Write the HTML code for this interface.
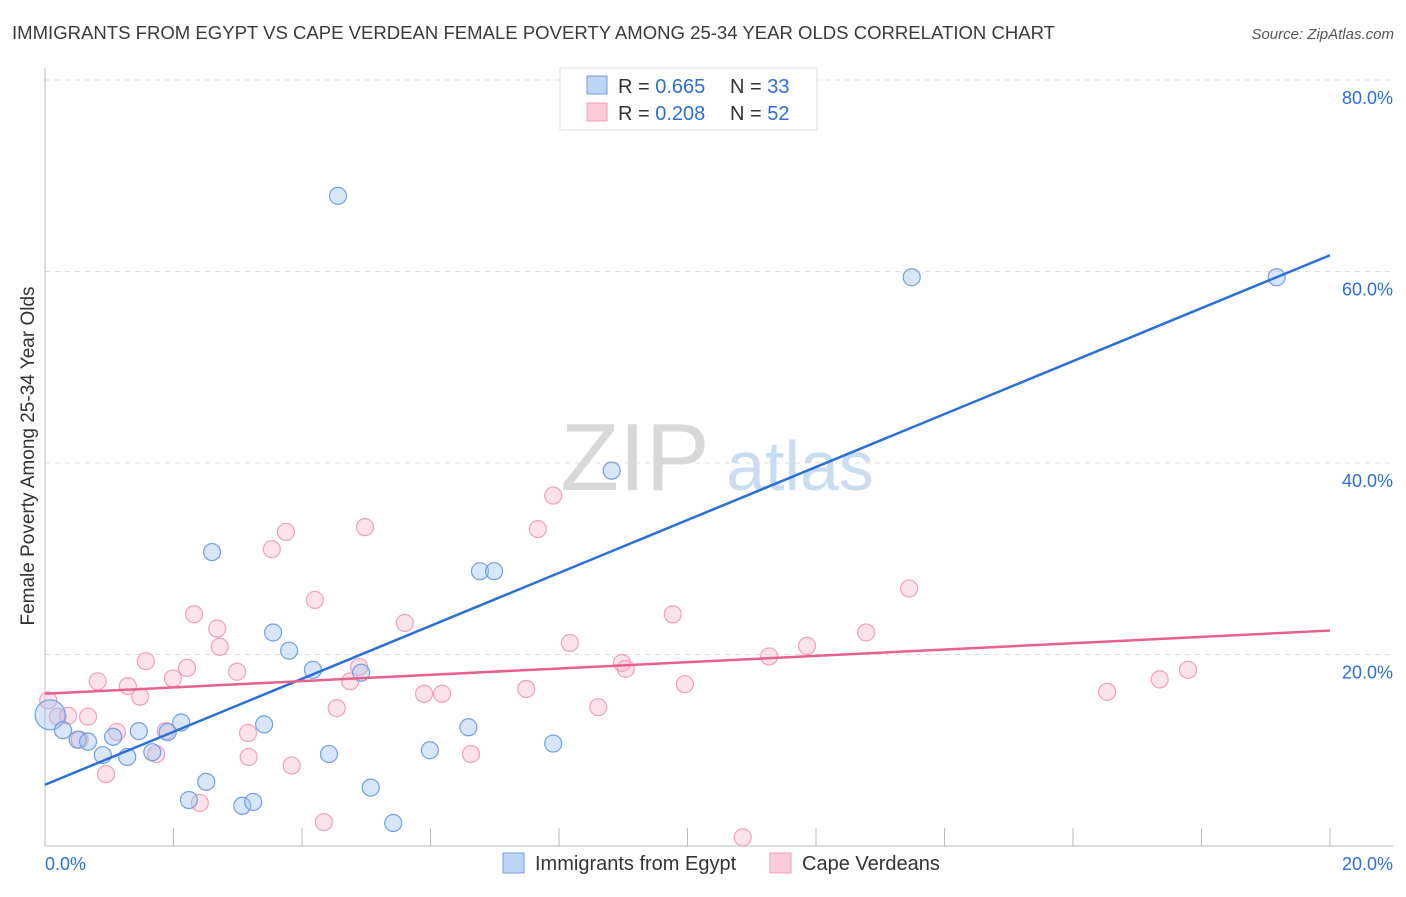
<!DOCTYPE html>
<html><head><meta charset="utf-8"><style>
body{margin:0;background:#fff;font-family:"Liberation Sans",sans-serif;}
svg text{font-family:"Liberation Sans",sans-serif;}
</style></head><body>
<svg id="chart" width="1406" height="892" xmlns="http://www.w3.org/2000/svg">
<text x="12" y="39" font-size="18" fill="#3a3a3a" textLength="1043" lengthAdjust="spacingAndGlyphs">IMMIGRANTS FROM EGYPT VS CAPE VERDEAN FEMALE POVERTY AMONG 25-34 YEAR OLDS CORRELATION CHART</text>
<text x="1394" y="39" font-size="15" fill="#555" text-anchor="end" font-style="italic">Source: ZipAtlas.com</text>
<text x="635" y="490" font-size="96" fill="#d8d8d8" text-anchor="middle" font-family="Liberation Serif">ZIP</text>
<text x="800" y="490" font-size="70" fill="#c8dcf2" text-anchor="middle">atlas</text>
<g id="grid"></g>
<g id="axes"></g>
<g id="pts"></g>
<g id="trends"></g>
<text transform="translate(34,456) rotate(-90)" font-size="19" fill="#333" text-anchor="middle">Female Poverty Among 25-34 Year Olds</text>
<g>
<rect x="560" y="68" width="257" height="62" fill="#fff" stroke="#ddd"/>
<rect x="587" y="76" width="20" height="18" fill="#bcd5f5" stroke="#6fa0e0"/>
<text x="618" y="93" font-size="20" fill="#333">R = <tspan fill="#2b6fd6">0.665</tspan></text>
<text x="730" y="93" font-size="20" fill="#333">N = <tspan fill="#2b6fd6">33</tspan></text>
<rect x="587" y="103" width="20" height="18" fill="#fbcbd8" stroke="#f0a0b8"/>
<text x="618" y="120" font-size="20" fill="#333">R = <tspan fill="#2b6fd6">0.208</tspan></text>
<text x="730" y="120" font-size="20" fill="#333">N = <tspan fill="#2b6fd6">52</tspan></text>
</g>
<g><rect x="503" y="853" width="21" height="20" fill="#bcd5f5" stroke="#6fa0e0"/><text x="535" y="870" font-size="20" fill="#333">Immigrants from Egypt</text></g>
<g><rect x="770" y="853" width="21" height="20" fill="#fbcbd8" stroke="#f0a0b8"/><text x="802" y="870" font-size="20" fill="#333">Cape Verdeans</text></g>
</svg>
<script>
const yTicks=[20,40,60,80];
const xTickLabels=["0.0%","20.0%"];
const egyptX=[0.08,0.28,0.51,0.67,0.90,1.06,1.28,1.46,1.67,1.91,2.12,2.24,2.51,2.60,3.07,3.24,3.41,3.55,3.80,4.17,4.42,4.56,4.92,5.07,5.42,5.99,6.59,6.77,6.99,7.91,8.82,13.49,19.17];
const egyptY=[13.7,12.1,11.1,10.9,9.5,11.4,9.3,12.0,9.8,11.9,12.9,4.8,6.7,30.7,4.2,4.6,12.7,22.3,20.4,18.4,9.6,67.9,18.1,6.1,2.4,10.0,12.4,28.7,28.7,10.7,39.2,59.4,59.4];
const capeX=[0.05,0.20,0.36,0.54,0.67,0.82,0.95,1.12,1.29,1.48,1.57,1.73,1.88,1.99,2.21,2.32,2.41,2.68,2.72,2.99,3.16,3.17,3.53,3.75,3.84,4.20,4.34,4.54,4.75,4.89,4.98,5.60,5.90,6.18,6.63,7.49,7.67,7.91,8.17,8.61,8.98,9.04,9.77,9.96,10.86,11.27,11.86,12.78,13.45,16.53,17.35,17.79];
const capeY=[15.2,13.5,13.6,11.1,13.5,17.2,7.5,11.9,16.7,15.6,19.3,9.6,12.0,17.5,18.6,24.2,4.5,22.7,20.8,18.2,11.8,9.3,31.0,32.8,8.4,25.7,2.5,14.4,17.2,18.7,33.3,23.3,15.9,15.9,9.6,16.4,33.1,36.6,21.2,14.5,19.1,18.5,24.2,16.9,0.9,19.8,20.9,22.3,26.9,16.1,17.4,18.4];
const egyptTrend=[6.4,61.7];
const capeTrend=[15.9,22.5];
const NS="http://www.w3.org/2000/svg";
const X0=45,X1=1330,Y0=846,YPER=191.5/20;
function sx(v){return X0+(X1-X0)*v/20;}
function sy(v){return Y0-v*YPER;}
function mk(tag,attrs,parent){const e=document.createElementNS(NS,tag);for(const k in attrs)e.setAttribute(k,attrs[k]);parent.appendChild(e);return e;}
const grid=document.getElementById('grid'),axes=document.getElementById('axes'),pts=document.getElementById('pts'),tr=document.getElementById('trends');
yTicks.forEach(t=>{
 const l=mk('line',{x1:X0,x2:1393,y1:sy(t),y2:sy(t),stroke:'#ddd','stroke-dasharray':'5,5'},grid);
 
 
 const tx=mk('text',{x:1393,y:sy(t)+24,'font-size':18,fill:'#2b6fd6','text-anchor':'end'},grid);
 tx.textContent=t.toFixed(1)+'%';
 
 
});
const ya=mk('line',{x1:X0,x2:X0,y1:68,y2:Y0,stroke:'#bbb'},axes);


const xa=mk('line',{x1:X0,x2:1393,y1:Y0,y2:Y0,stroke:'#bbb'},axes);


for(let k=1;k<=10;k++){const t=mk('line',{x1:sx(k*2),x2:sx(k*2),y1:828,y2:Y0,stroke:'#bbb'},axes);
 
 }
const xl0=mk('text',{x:45,y:870,'font-size':18,fill:'#2b6fd6'},axes);xl0.textContent=xTickLabels[0];


const xl1=mk('text',{x:1393,y:870,'font-size':18,fill:'#2b6fd6','text-anchor':'end'},axes);xl1.textContent=xTickLabels[1];


capeX.forEach((v,i)=>{const c=mk('circle',{cx:sx(v),cy:sy(capeY[i]),r:8.5,fill:'rgba(248,182,202,0.4)',stroke:'#f0a0b8','stroke-width':1.2},pts);
 
 });
egyptX.forEach((v,i)=>{const c=mk('circle',{cx:sx(v),cy:sy(egyptY[i]),r:i===0?15:8.5,fill:'rgba(160,196,240,0.42)',stroke:'#6fa0e0','stroke-width':1.2},pts);
 
 });
const l1=mk('line',{x1:sx(0),y1:sy(egyptTrend[0]),x2:sx(20),y2:sy(egyptTrend[1]),stroke:'#2a6fd8','stroke-width':2.5},tr);


const l2=mk('line',{x1:sx(0),y1:sy(capeTrend[0]),x2:sx(20),y2:sy(capeTrend[1]),stroke:'#e8608c','stroke-width':2.5},tr);


</script>
</body></html>
